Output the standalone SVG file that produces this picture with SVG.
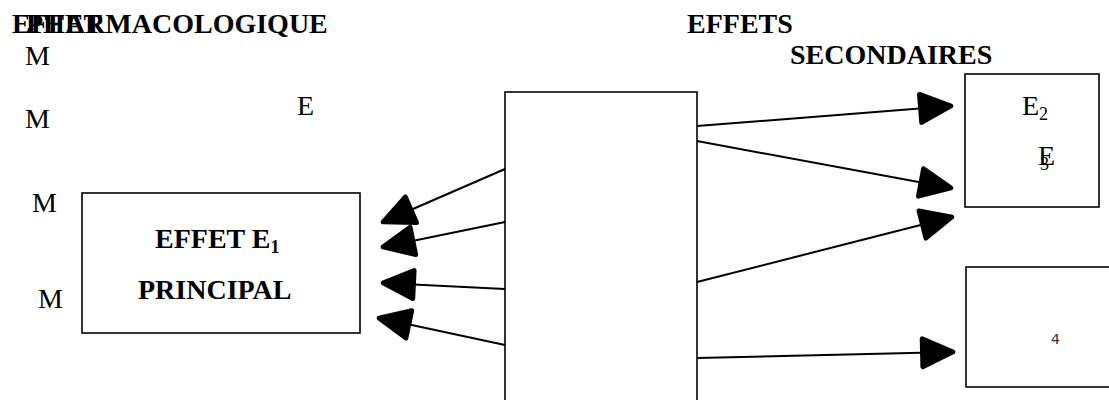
<svg xmlns="http://www.w3.org/2000/svg" width="1109" height="400" viewBox="0 0 1109 400">
<style>
.t{font-family:"Liberation Serif","Times New Roman",serif;fill:#000}
.b{font-weight:bold}
.box{fill:#fff;stroke:#000;stroke-width:1.6}
.ln{stroke:#000;stroke-width:2;fill:none;marker-end:url(#ah)}
</style>
<defs>
<marker id="ah" markerUnits="userSpaceOnUse" markerWidth="40" markerHeight="40" viewBox="-30 -16 34 32" refX="0" refY="0" orient="auto">
<path d="M-26,-12 L0,0 L-26,12 Z" fill="#000" stroke="#000" stroke-width="4" stroke-linejoin="round"/>
</marker>
</defs>
<rect width="1109" height="400" fill="#fff"/>
<g id="titles">
<text class="t b" x="12" y="33" font-size="28">EFFET</text>
<text class="t b" x="26" y="33" font-size="28">PHARMACOLOGIQUE</text>
<text class="t b" x="687" y="33" font-size="28">EFFETS</text>
<text class="t b" x="790" y="64" font-size="28">SECONDAIRES</text>
</g>
<g id="labels">
<text class="t" x="25" y="65" font-size="28">M</text>
<text class="t" x="25" y="128" font-size="28">M</text>
<text class="t" x="297" y="115" font-size="28">E</text>
<text class="t" x="32" y="212" font-size="28">M</text>
<text class="t" x="38" y="308" font-size="28">M</text>
</g>
<g id="center">
<rect class="box" x="505" y="92" width="192" height="330" stroke-width="2"/>
</g>
<g id="principal">
<rect class="box" x="82" y="193" width="278" height="140"/>
<text class="t b" x="155" y="248" font-size="28">EFFET E<tspan font-size="18" dy="5">1</tspan></text>
<text class="t b" x="138" y="299" font-size="28">PRINCIPAL</text>
</g>
<g id="secondaires">
<rect class="box" x="965" y="74" width="134" height="133"/>
<text class="t" x="1022" y="115" font-size="28">E<tspan font-size="18" dy="5">2</tspan></text>
<text class="t" x="1038" y="165" font-size="28">E</text>
<text class="t" x="1040" y="170" font-size="18">3</text>
</g>
<g id="box4">
<rect class="box" x="966" y="267" width="160" height="120"/>
<text x="1051" y="344" font-size="14" font-family="'DejaVu Sans','Liberation Sans',sans-serif" fill="#333">4</text>
</g>
<g id="connectors">
<line class="ln" x1="505" y1="169" x2="383" y2="222"/>
<line class="ln" x1="505" y1="222" x2="383" y2="247"/>
<line class="ln" x1="505" y1="289" x2="383" y2="283"/>
<line class="ln" x1="505" y1="345" x2="379" y2="318"/>
<line class="ln" x1="697" y1="126" x2="951" y2="106"/>
<line class="ln" x1="697" y1="141" x2="951" y2="188"/>
<line class="ln" x1="697" y1="282" x2="952" y2="217"/>
<line class="ln" x1="697" y1="358" x2="953" y2="352"/>
</g>
</svg>
